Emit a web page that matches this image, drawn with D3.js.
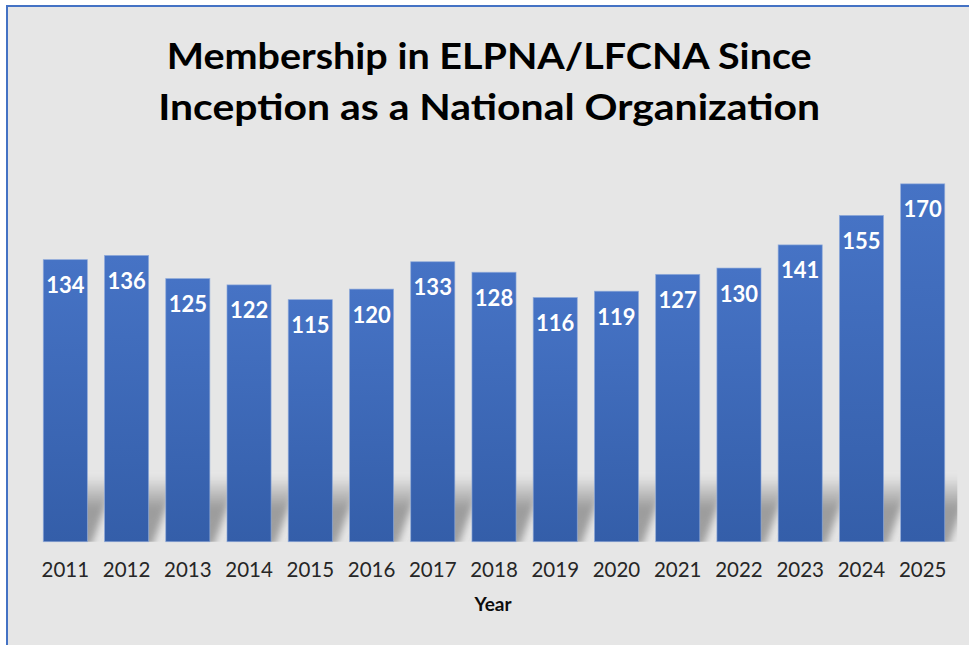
<!DOCTYPE html>
<html><head><meta charset="utf-8">
<script src="https://cdn.jsdelivr.net/npm/d3@7"></script>
<style>html,body{margin:0;padding:0;background:#fff;}svg{display:block;}</style>
</head><body>
<script>
const years = ["2011","2012","2013","2014","2015","2016","2017","2018","2019","2020","2021","2022","2023","2024","2025"];
const members = [134,136,125,122,115,120,133,128,116,119,127,130,141,155,170];
const titleLines = ["Membership in ELPNA/LFCNA Since","Inception as a National Organization"];
const xAxisTitle = "Year";

const W = 969, H = 645;
const FONT = "Lato, 'Open Sans', sans-serif";
const svg = d3.select("body").append("svg").attr("width", W).attr("height", H);
const defs = svg.append("defs");

// background + border
svg.append("rect").attr("x",7).attr("y",6).attr("width",W+10).attr("height",H+10)
  .attr("fill","#e6e6e6").attr("stroke","#4472c4").attr("stroke-width",2);

const x = d3.scaleBand().domain(years).range([34.7, 953.3]).paddingInner(0.28).paddingOuter(0.14);
const y = d3.scaleLinear().domain([0,180]).range([541.7, 162.8]);

// gradients
const bg = defs.append("linearGradient").attr("id","barGrad").attr("x1",0).attr("y1",0).attr("x2",0).attr("y2",1);
bg.append("stop").attr("offset","0%").attr("stop-color","#4673c5");
bg.append("stop").attr("offset","100%").attr("stop-color","#345ea9");

const sg = defs.append("linearGradient").attr("id","shGrad").attr("x1",0).attr("y1",1).attr("x2",0).attr("y2",0);
sg.append("stop").attr("offset","0%").attr("stop-color","#8a8a8a").attr("stop-opacity",0.75);
sg.append("stop").attr("offset","55%").attr("stop-color","#8a8a8a").attr("stop-opacity",0.8);
sg.append("stop").attr("offset","100%").attr("stop-color","#8a8a8a").attr("stop-opacity",0);
const blur = defs.append("filter").attr("id","blur").attr("x","-50%").attr("y","-50%").attr("width","200%").attr("height","200%");
blur.append("feGaussianBlur").attr("stdDeviation",3.5);
defs.append("clipPath").attr("id","plotClip").append("rect")
  .attr("x",x.range()[0]).attr("y",0).attr("width",x.range()[1]-x.range()[0]+4).attr("height",y(0));

// shadows
const shH = 66, shDx = 26;
const base = y(0);
svg.append("g").attr("clip-path","url(#plotClip)").selectAll("polygon").data(years).join("polygon")
  .attr("points", d => {
    const x0 = x(d)+3, x1 = x(d)+x.bandwidth()+3;
    return [[x0,base+6],[x1,base+6],[x1+shDx,base-shH],[x0+shDx,base-shH]].map(p=>p.join(",")).join(" ");
  })
  .attr("fill","url(#shGrad)").attr("filter","url(#blur)");

// bars
svg.append("g").selectAll("rect").data(years).join("rect")
  .attr("x", d => x(d)).attr("width", x.bandwidth())
  .attr("y", (d,i) => y(members[i])).attr("height", (d,i) => y(0)-y(members[i]))
  .attr("fill","url(#barGrad)").attr("stroke","#8eaadb").attr("stroke-width",0.8).attr("stroke-opacity",0.8);

// value labels
svg.append("g").selectAll("text").data(years).join("text")
  .attr("x", d => x(d)+x.bandwidth()/2).attr("y", (d,i) => y(members[i])+33.5)
  .attr("text-anchor","middle").attr("font-family",FONT).attr("font-weight","bold")
  .attr("font-size",22).attr("fill","#ffffff").text((d,i)=>members[i]);

// x axis
const xAxis = svg.append("g").attr("transform",`translate(0,${base})`)
  .call(d3.axisBottom(x).tickSize(0).tickPadding(21));
xAxis.select(".domain").remove();
xAxis.selectAll("text").attr("font-family",FONT).attr("font-size",20.5).attr("fill","#262626");

svg.append("text").attr("x",493).attr("y",610.5).attr("text-anchor","middle")
  .attr("font-family",FONT).attr("font-weight","bold").attr("font-size",19).attr("fill","#0d0d0d").text(xAxisTitle);

// title
const tW = [645, 662], tX = [489.2, 489.2], tY = [69.3, 120];
titleLines.forEach((t,i) => {
  svg.append("text").attr("x",tX[i]).attr("y",tY[i]).attr("text-anchor","middle")
    .attr("font-family",FONT).attr("font-weight","bold").attr("font-size",37).attr("fill","#000")
    .attr("textLength",tW[i]).attr("lengthAdjust","spacingAndGlyphs").text(t);
});
</script>
</body></html>
